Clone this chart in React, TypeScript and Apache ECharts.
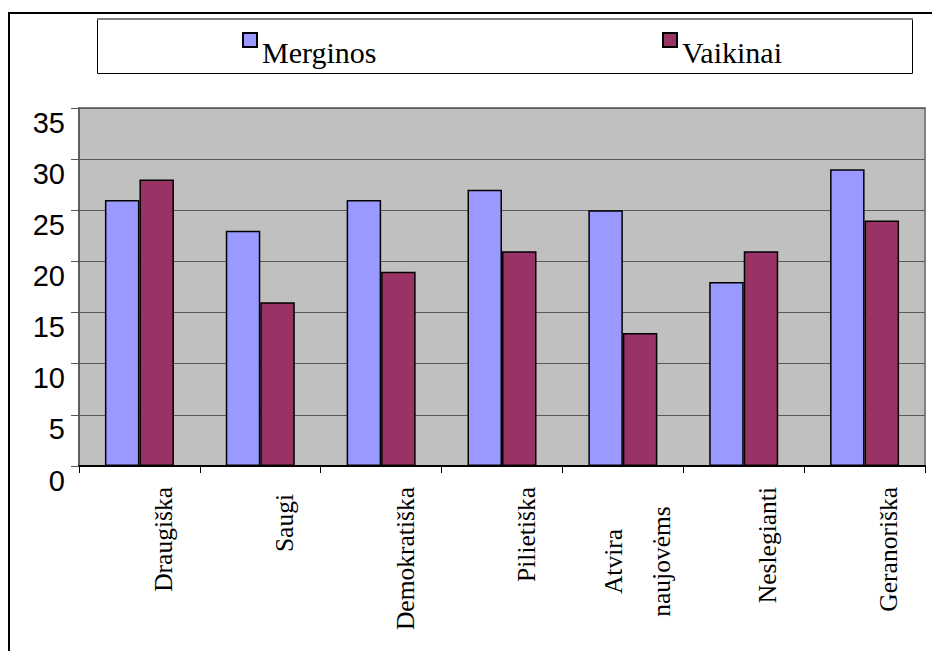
import React, { useEffect, useRef } from "react";
import * as echarts from "echarts";

const categories = [
  "Draugiška",
  "Saugi",
  "Demokratiška",
  "Pilietiška",
  "Atvira\nnaujovėms",
  "Neslegianti",
  "Geranoriška",
];
const merginos = [26, 23, 26, 27, 25, 18, 29];
const vaikinai = [28, 16, 19, 21, 13, 21, 24];
const seriesNames = ["Merginos", "Vaikinai"];
const yMin = 0;
const yMax = 35;
const yInterval = 5;

const SERIF = "'Liberation Serif', 'Times New Roman', Times, serif";
const SANS = "'Liberation Sans', Arial, Helvetica, sans-serif";

export default function App() {
  const ref = useRef<HTMLDivElement>(null);
  useEffect(() => {
    if (!ref.current) return;
    const chart = echarts.init(ref.current, undefined, { renderer: "svg" });
    const legendText = {
      fontFamily: SERIF,
      fontSize: 30,
      color: "#000",
      rich: {
        t: {
          fontFamily: SERIF,
          fontSize: 30,
          color: "#000",
          padding: [24, 0, 0, 0],
        },
      },
    };
    chart.setOption({
      animation: false,
      backgroundColor: "#fff",
      graphic: [
        {
          type: "rect",
          shape: { x: 9, y: 13, width: 1000, height: 1000 },
          style: { fill: "none", stroke: "#000", lineWidth: 2 },
          silent: true,
        },
        {
          type: "rect",
          shape: { x: 97.5, y: 18.5, width: 815, height: 55 },
          style: { fill: "#fff", stroke: "#000", lineWidth: 1 },
          silent: true,
          z: -1,
        },
        {
          type: "line",
          shape: { x1: 97, y1: 19, x2: 913, y2: 19 },
          style: { stroke: "#808080", lineWidth: 2 },
          silent: true,
        },
      ],
      legend: [
        {
          data: [seriesNames[0]],
          left: 242,
          top: 32,
          padding: 0,
          icon: "rect",
          itemWidth: 14,
          itemHeight: 14,
          formatter: "{t|{name}}",
          textStyle: legendText,
        },
        {
          data: [seriesNames[1]],
          left: 662,
          top: 32,
          padding: 0,
          icon: "rect",
          itemWidth: 14,
          itemHeight: 14,
          formatter: "{t|{name}}",
          textStyle: legendText,
        },
      ],
      grid: {
        left: 79,
        top: 108,
        width: 846,
        height: 358,
        show: true,
        backgroundColor: "#C0C0C0",
        borderColor: "#808080",
        borderWidth: 2,
      },
      xAxis: {
        type: "category",
        data: categories,
        axisLine: { show: true, lineStyle: { color: "#000", width: 2 } },
        axisTick: { show: true, length: 7, lineStyle: { color: "#000", width: 1 } },
        axisLabel: {
          rotate: 90,
          margin: 21,
          interval: 0,
          fontFamily: SERIF,
          fontSize: 25.5,
          color: "#000",
          padding: [48, 0, 0, 0],
          formatter: (v: string) => {
            if (v.indexOf("\n") >= 0) {
              return (
                v
                  .split("\n")
                  .map((s) => "{c|" + s + "}")
                  .join("\n") + "\n{e| }"
              );
            }
            if (v === "Saugi") return "{s|" + v + "}";
            return v;
          },
          rich: {
            c: {
              width: 149,
              align: "center",
              fontFamily: SERIF,
              fontSize: 25.5,
              color: "#000",
              lineHeight: 48,
            },
            e: {
              width: 149,
              fontSize: 2,
              lineHeight: 18,
            },
            s: {
              fontFamily: SERIF,
              fontSize: 25.5,
              color: "#000",
              padding: [0, 7, 0, 0],
            },
          },
        },
      },
      yAxis: {
        type: "value",
        min: yMin,
        max: yMax,
        interval: yInterval,
        axisLine: { show: true, lineStyle: { color: "#555", width: 1.5 } },
        axisTick: { show: true, length: 8, lineStyle: { color: "#555", width: 1 } },
        splitLine: { show: true, lineStyle: { color: "#5a5a5a", width: 1.2 } },
        axisLabel: {
          fontFamily: SANS,
          fontSize: 29,
          color: "#000",
          margin: 14,
          verticalAlign: "top",
        },
      },
      series: [
        {
          name: seriesNames[0],
          type: "bar",
          data: merginos,
          barWidth: 34.5,
          barGap: "0%",
          itemStyle: { color: "#9999FF", borderColor: "#000", borderWidth: 1.5 },
        },
        {
          name: seriesNames[1],
          type: "bar",
          data: vaikinai,
          barWidth: 34.5,
          barGap: "0%",
          itemStyle: { color: "#993366", borderColor: "#000", borderWidth: 1.5 },
        },
      ],
    });
    return () => chart.dispose();
  }, []);
  return (
    <div
      ref={ref}
      style={{ position: "fixed", left: 0, top: 0, width: 932, height: 651 }}
    />
  );
}
